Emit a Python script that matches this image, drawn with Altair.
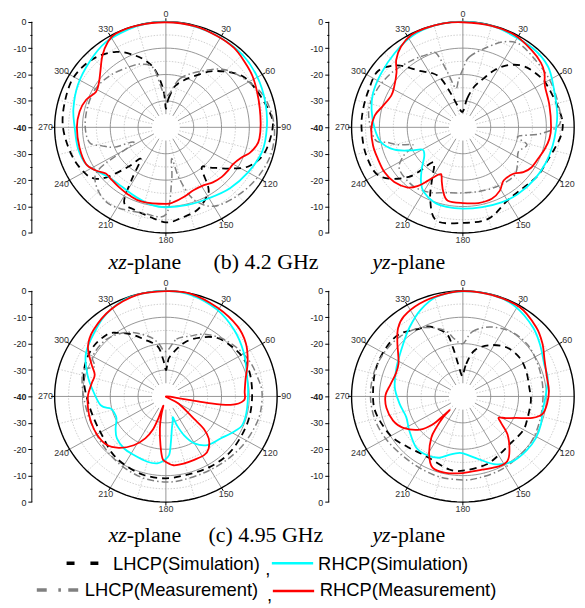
import altair as alt
import pandas as pd

# ---------------- data: angle (deg, clockwise from top) and level (dB) ----------------
# Panel 1: xz-plane, 4.2 GHz
P1_LS_ANG = [0, 5, 12, 20, 27, 37, 46, 55, 66, 81, 90, 105, 116, 124, 134, 140, 146, 150, 160, 171, 180, 192, 200, 208, 212, 217, 222, 228, 233, 240, 253, 270, 285, 300, 315, 328, 338, 345, 350, 355, 358]
P1_LS_DB = [-33, -29, -24, -21, -18.4, -13.5, -9.7, -6.3, -4.6, -2.3, -1.6, -3.2, -6.6, -12.1, -18.1, -20, -12.8, -10.2, -6.8, -5.2, -4, -6, -6.8, -8, -17, -25, -20, -12, -7.8, -6, -4.5, -3, -2.4, -1.8, -3.2, -6.3, -10.7, -14.4, -18, -24, -29]
P1_RS_ANG = [0, 15, 30, 45, 60, 75, 90, 105, 120, 135, 150, 165, 180, 190, 202, 215, 227, 235, 244, 256, 270, 282, 297, 312, 326, 340, 350]
P1_RS_DB = [0, -0.4, -0.8, -1.1, -2.0, -3.0, -3.7, -4.2, -5.9, -7.4, -9.0, -9.6, -9.7, -10.2, -11.5, -12.5, -12.2, -10.5, -8.1, -7.4, -7.2, -6.0, -4.5, -3.0, -1.2, -0.5, -0.1]
P1_LM_ANG = [0, 15, 30, 45, 63, 75, 90, 105, 120, 135, 150, 160, 166, 170, 174, 180, 194, 215, 230, 237, 243, 248, 253, 258, 270, 285, 300, 315, 330, 340, 349]
P1_LM_DB = [-28, -21, -15.6, -9.3, -4.8, -2.4, -1.0, -0.9, -2.0, -3.5, -5.5, -11, -20, -28, -20, -7, -6.5, -4.5, -7, -12, -27, -20, -16, -12, -11, -10.8, -10.8, -12, -13.6, -14.5, -17.4]
P1_RM_ANG = [0, 15, 28, 39, 49, 58, 68, 78, 88, 97, 102, 108, 113, 120, 126, 133, 141, 148, 157, 166, 174, 180, 197, 207, 217, 226, 231, 237, 244, 256, 270, 281, 290, 298, 305, 312, 320, 327, 333, 345]
P1_RM_DB = [-0.2, -0.3, -0.8, -1.2, -2.4, -3.3, -4.6, -5.5, -5.9, -6.1, -6.7, -8.4, -10.6, -12.1, -12.3, -12.5, -13.2, -14.2, -14.2, -12.9, -11.6, -11.0, -10.6, -11.1, -11.8, -12.2, -12.2, -10.0, -8.1, -8.0, -8.0, -8.4, -9.5, -11.5, -10.6, -8.3, -4.5, -1.6, -0.2, -0.1]

# Panel 2: yz-plane, 4.2 GHz
P2_LS_ANG = [0, 8, 15, 22, 28, 35, 44, 56, 63, 77, 87, 95, 104, 114, 124, 135, 150, 165, 180, 195, 203, 210, 215, 220, 226, 238, 253, 269, 281, 293, 305, 315, 324, 332, 337, 341, 348]
P2_LS_DB = [-34, -29, -24, -20, -15.3, -11.2, -8, -6.2, -5.8, -5, -4.1, -4.6, -6.1, -7.2, -7.4, -8.4, -8, -4.2, -3.8, -3.4, -10, -18, -22, -22.5, -13, -4.9, -3.7, -3.6, -3.5, -3.3, -2.8, -6.8, -13.6, -16.8, -20, -26, -32]
P2_RS_ANG = [0, 15, 24, 40, 53, 66, 81, 91, 102, 114, 127, 142, 154, 167, 180, 191, 200, 210, 216, 223, 232, 240, 245, 251, 259, 269, 281, 292, 305, 319, 332, 345]
P2_RS_DB = [0, -0.2, -0.7, -0.9, -1.7, -4.2, -5.7, -6.5, -7.0, -7.3, -7.6, -7.9, -8.4, -9.0, -9.2, -9.3, -9.8, -11.8, -14.4, -18.3, -22.4, -23.2, -19.3, -14.0, -10.1, -8.3, -6.6, -5.2, -4.2, -2.7, -0.9, -0.1]
P2_LM_ANG = [0, 5, 17, 25, 33, 45, 60, 75, 88, 95, 100, 106, 115, 125, 135, 150, 165, 180, 195, 206, 219, 235, 243, 249, 254, 258, 262, 280, 295, 310, 325, 335, 341, 345, 350, 355]
P2_LM_DB = [-18, -13.2, -8, -4.2, -2.5, -3.5, -4.0, -4.6, -5.2, -12, -20, -16, -18, -16, -14, -14.4, -15, -15.2, -14.4, -12.6, -11.5, -12.2, -16, -21, -16, -12.4, -8, -5.6, -6, -7.2, -8.8, -9.6, -10.2, -18, -25, -22]
P2_RM_ANG = [0, 15, 28, 40, 49, 55, 62, 75, 90, 98, 106, 114, 122, 128, 134, 144, 151, 159, 169, 180, 191, 196, 200, 204, 209, 212, 216, 221, 230, 239, 249, 258, 269, 278, 286, 295, 302, 311, 317, 324, 332, 340, 350]
P2_RM_DB = [-0.2, -0.2, -0.4, -1.7, -2.8, -4.2, -6.6, -7.8, -8.3, -8.6, -9.5, -10.5, -11.1, -12.4, -14.7, -15.1, -12.6, -11.0, -10.8, -11.3, -11.7, -14.5, -17.9, -20.6, -18.4, -16.1, -12.6, -9.8, -7.8, -7.1, -7.2, -7.0, -7.1, -8.0, -10.2, -11.6, -10.9, -8.4, -4.9, -2.2, -0.4, -0.1, 0]

# Panel 3: xz-plane, 4.95 GHz
P3_LS_ANG = [0, 3, 6, 18, 29, 40, 52, 63, 75, 90, 105, 120, 135, 150, 165, 180, 195, 210, 222, 235, 252, 268, 282, 294, 306, 318, 324, 332, 340, 351, 356]
P3_LS_DB = [-30, -27, -24.6, -18.6, -14.5, -11.1, -9.6, -8.6, -8.6, -9, -9, -9, -8.7, -9, -9.4, -9, -9.2, -10.2, -11.1, -12.6, -12.8, -11.7, -9.8, -8.4, -7.8, -8.4, -10.2, -13.3, -17, -20.7, -26]
P3_RS_ANG = [0, 13, 29, 44, 59, 75, 87, 102, 112, 118, 129, 141, 150, 156, 160, 162, 165, 170, 174, 177, 182, 187, 195, 207, 217, 228, 236, 245, 252, 257, 262, 276, 286, 298, 309, 324, 338, 349]
P3_RS_DB = [0, -0.5, -2.3, -4.8, -7.4, -9.8, -10.4, -10.4, -10.5, -12, -14.7, -16.3, -19.5, -23.9, -28.3, -31.7, -30.5, -27.6, -22.7, -17.8, -15.6, -14.5, -14.4, -15, -15.2, -16.3, -18.2, -20.4, -20.4, -19.6, -16.3, -13.4, -10.7, -7.3, -5.4, -2.4, -0.4, -0.1]
P3_LM_ANG = [0, 10, 21, 30, 42, 55, 67, 77, 87, 100, 111, 125, 140, 155, 170, 180, 194, 210, 225, 240, 255, 270, 282, 289, 294, 300, 315, 330, 344, 352]
P3_LM_DB = [-23, -18, -15.5, -12.8, -10.3, -8.4, -7, -6.3, -5.4, -5.5, -6.1, -6.8, -7.6, -8, -7.8, -7.6, -8, -9.2, -10.4, -11.2, -11.2, -10.4, -9.2, -8.8, -12, -9.6, -9.6, -12, -16.2, -19.4]
P3_RM_ANG = [0, 13, 29, 44, 55, 66, 77, 86, 93, 97.8, 99.3, 99, 100, 121, 130, 132, 136, 142, 148, 157, 166, 174, 180, 183, 186, 190, 193, 195, 198, 200.5, 205, 212, 221, 230, 240, 250, 260, 271, 281, 288, 295, 304, 314, 329, 345]
P3_RM_DB = [-0.1, -0.1, -1.6, -3.0, -4.9, -7.8, -10.6, -11.6, -11.9, -16.5, -25, -33.4, -40, -34.6, -26.9, -21.7, -17.8, -15, -13.9, -13.9, -13.8, -13.8, -15.2, -16.5, -21.4, -27.6, -32.6, -36.4, -31.5, -26.5, -22.5, -18.2, -14.2, -11.8, -11.3, -11.4, -11.6, -12, -12.9, -13.1, -10.4, -6.2, -3.8, -1.6, -0.2]

# Panel 4: yz-plane, 4.95 GHz
P4_LS_ANG = [0, 5.6, 13.5, 26, 40, 54, 67, 82, 94, 109, 121, 137, 149, 162, 178, 190, 210, 227, 241, 260, 276, 290, 304, 316, 329, 336, 346, 349, 352, 356]
P4_LS_DB = [-32, -27.6, -22.1, -18.4, -15.7, -14.9, -15.3, -15.9, -15.5, -15.4, -14.8, -15.3, -14.4, -12.9, -12, -11.9, -13.8, -12.3, -10, -8, -7.6, -7, -6.8, -7.2, -10, -11.1, -15.5, -21, -27.5, -31.5]
P4_RS_ANG = [0, 16, 29, 44, 56, 67, 77, 88, 101, 111, 121, 132, 144, 155, 166, 177, 183, 192, 200, 210, 221, 236, 249, 263, 278, 295, 313, 324, 335, 346]
P4_RS_DB = [-0.2, -0.2, -1.1, -3.7, -6.3, -8.3, -8.7, -10.1, -10.8, -10, -9.4, -9.3, -9.6, -11.6, -15.4, -18, -18.6, -17.5, -15.3, -14.3, -14.4, -16.8, -18.2, -17.1, -15.3, -13.7, -10.7, -7.5, -3.9, -1.1]
P4_LM_ANG = [0, 8, 20, 35, 50, 65, 80, 95, 110, 125, 140, 155, 170, 180, 195, 210, 225, 240, 255, 270, 285, 300, 315, 330, 345, 352]
P4_LM_DB = [-20, -15.2, -12, -10, -9.6, -10.4, -11, -11.2, -10.8, -10, -9.6, -9, -8.6, -8.4, -8.4, -8.8, -8.8, -8, -7.2, -6.8, -6.8, -7.2, -8, -10, -14, -18]
P4_RM_ANG = [0, 15, 31, 45, 55, 65, 76, 86, 95, 103, 108, 113, 118, 122, 126, 132, 141, 147, 154, 166, 180, 192, 202, 209, 216, 219, 221.8, 222.5, 224, 225.6, 231, 241, 250, 261, 271, 280, 290, 298, 305, 311, 318, 325, 336, 348]
P4_RM_DB = [-0.1, -0.2, -0.5, -2.8, -5.1, -7.6, -8.9, -9.0, -9.6, -10.6, -13.7, -19.2, -22.5, -24.8, -23.1, -18.4, -13.4, -10.7, -10.5, -11.4, -11, -10.4, -10.9, -15, -20.7, -24.8, -29.3, -33, -29.7, -25, -20.1, -15.5, -13.3, -12.2, -12.2, -13.6, -14.4, -13.8, -11.6, -8.8, -5.2, -3, -1.6, -0.8]

# grid / labels
RINGS_SOLID = [-30, -20, -10]
RINGS_DOTTED = [-25, -15, -5]
SPOKES_SOLID = list(range(0, 360, 30))
SPOKES_DOTTED = list(range(15, 360, 30))
ANGLE_LABELS = list(range(0, 360, 30))
AXIS_VALUES = list(range(-40, 41, 5))

SERIES = ["LHCP(Simulation)", "RHCP(Simulation)", "LHCP(Measurement)", "RHCP(Measurement)"]
COLORS = ["#000000", "#00ffff", "#808080", "#ff0000"]

RAD = "PI / 180"
YS = alt.Scale(domain=[-45.1, 44.4], nice=False, zero=False)
YAXIS = alt.Axis(
    values=AXIS_VALUES,
    labelExpr="datum.value % 10 != 0 ? '' : (abs(datum.value) == 40 ? '0' : '-' + (40 - abs(datum.value)))",
    labelFontWeight={"condition": {"test": "datum.value == 0", "value": "bold"}, "value": "normal"},
    tickSize={"condition": {"test": "datum.value % 10 == 0", "value": 4}, "value": 2},
    domain=False, grid=False, ticks=True, tickColor="#000000", tickWidth=1,
    labelFont="Liberation Sans", labelFontSize=9, labelColor="#222222",
    labelPadding=2, labelOverlap=False, title=None,
)


def ring_frame(levels):
    return pd.DataFrame([{"lvl": v, "t": t} for v in levels for t in range(0, 361, 3)])


def panel(curves, right_col):
    xdom = [-48.2, 40.3] if right_col else [-48.2, 48.2]
    width = round((xdom[1] - xdom[0]) * 2.8)
    XS = alt.Scale(domain=xdom, nice=False, zero=False)
    label_limit = 39 if right_col else 46

    def X(f):
        return alt.X(f, type="quantitative", scale=XS, axis=None)

    def Y(f):
        return alt.Y(f, type="quantitative", scale=YS, axis=YAXIS)

    def rings(levels, **mk):
        return alt.Chart(ring_frame(levels)).transform_calculate(
            r="datum.lvl + 40",
            px=f"datum.r * sin(datum.t * {RAD})",
            py=f"datum.r * cos(datum.t * {RAD})",
        ).mark_line(**mk).encode(x=X("px"), y=Y("py"), detail="lvl:N", order="t:Q")

    def spokes(angles, r1, r2, **mk):
        return alt.Chart(pd.DataFrame({"a": angles})).transform_calculate(
            x1=f"{r1} * sin(datum.a * {RAD})", y1=f"{r1} * cos(datum.a * {RAD})",
            x2=f"{r2} * sin(datum.a * {RAD})", y2=f"{r2} * cos(datum.a * {RAD})",
        ).transform_filter(f"datum.x2 < {xdom[1] - 0.1}").mark_rule(**mk).encode(
            x=X("x1"), y=Y("y1"), x2="x2:Q", y2="y2:Q")

    layers = [
        rings(RINGS_DOTTED, color="#c4c4c4", strokeWidth=0.8, strokeDash=[1.5, 1.5]),
        spokes(SPOKES_DOTTED, 5, 40, color="#c4c4c4", strokeWidth=0.8, strokeDash=[1.5, 1.5]),
        rings(RINGS_SOLID, color="#8a8a8a", strokeWidth=0.9),
        spokes(SPOKES_SOLID, 5, 40, color="#8a8a8a", strokeWidth=0.9),
        rings([0], color="#000000", strokeWidth=1.4),
        spokes(ANGLE_LABELS, 40, 41.3, color="#000000", strokeWidth=1),
        alt.Chart(pd.DataFrame({"k": [0]})).mark_rule(color="#000000", strokeWidth=1).encode(
            x=alt.value(0), y=alt.Y(datum=-40, type="quantitative", scale=YS, axis=YAXIS), y2=alt.datum(40)),
        alt.Chart(pd.DataFrame({"a": ANGLE_LABELS})).transform_calculate(
            px=f"43.3 * sin(datum.a * {RAD})", py=f"42.8 * cos(datum.a * {RAD})",
            lab="'' + datum.a",
        ).transform_filter(f"datum.px < {label_limit}").mark_text(
            font="Liberation Sans", fontSize=9, color="#333333", align="center", baseline="middle"
        ).encode(x=X("px"), y=Y("py"), text="lab:N"),
    ]
    styles = [
        dict(color=COLORS[0], strokeWidth=1.8, strokeDash=[7, 5]),
        dict(color=COLORS[2], strokeWidth=1.5, strokeDash=[7, 3, 1.5, 3]),
        dict(color=COLORS[1], strokeWidth=1.8),
        dict(color=COLORS[3], strokeWidth=1.8),
    ]
    for (ang, db), st in zip(curves, styles):
        df = pd.DataFrame({"ang": ang, "db": db, "ord": list(range(len(ang)))})
        layers.append(
            alt.Chart(df).transform_calculate(
                r="max(datum.db + 40, 0)",
                px=f"datum.r * sin(datum.ang * {RAD})",
                py=f"datum.r * cos(datum.ang * {RAD})",
            ).mark_line(interpolate="cardinal-closed", **st).encode(
                x=X("px"), y=Y("py"), order="ord:Q")
        )
    return alt.layer(*layers).properties(width=width, height=238)


p1 = panel([(P1_LS_ANG, P1_LS_DB), (P1_LM_ANG, P1_LM_DB), (P1_RS_ANG, P1_RS_DB), (P1_RM_ANG, P1_RM_DB)], False)
p2 = panel([(P2_LS_ANG, P2_LS_DB), (P2_LM_ANG, P2_LM_DB), (P2_RS_ANG, P2_RS_DB), (P2_RM_ANG, P2_RM_DB)], True)
p3 = panel([(P3_LS_ANG, P3_LS_DB), (P3_LM_ANG, P3_LM_DB), (P3_RS_ANG, P3_RS_DB), (P3_RM_ANG, P3_RM_DB)], False)
p4 = panel([(P4_LS_ANG, P4_LS_DB), (P4_LM_ANG, P4_LM_DB), (P4_RS_ANG, P4_RS_DB), (P4_RM_ANG, P4_RM_DB)], True)

DUMMY = pd.DataFrame({"k": [0]})


def txt(s, x, y, size=22, font="Liberation Serif", style="normal", align="left"):
    return alt.Chart(DUMMY).mark_text(
        text=s, font=font, fontSize=size, fontStyle=style, align=align, baseline="alphabetic", color="#000000"
    ).encode(x=alt.value(x), y=alt.value(y))


def seg(x1, x2, y, color, width, dash=None):
    kw = dict(color=color, strokeWidth=width)
    if dash:
        kw["strokeDash"] = dash
    return alt.Chart(DUMMY).mark_rule(**kw).encode(x=alt.value(x1), x2=alt.value(x2), y=alt.value(y))


DX = -30  # caption chart origin sits at the panel axis line (x = 30)
cap1 = alt.layer(
    txt("xz", 125.5 + DX, 23, style="italic", align="right"),
    txt("-plane", 125.5 + DX, 23),
    txt("(b) 4.2 GHz", 213 + DX, 23),
    txt("yz", 391.3 + DX, 23, style="italic", align="right"),
    txt("-plane", 391.3 + DX, 23),
).properties(width=535, height=33)

LEG_FONT = "Liberation Sans"
cap2 = alt.layer(
    txt("xz", 125.5 + DX, 26.5, style="italic", align="right"),
    txt("-plane", 125.5 + DX, 26.5),
    txt("(c) 4.95 GHz", 208 + DX, 26.5),
    txt("yz", 391.3 + DX, 26.5, style="italic", align="right"),
    txt("-plane", 391.3 + DX, 26.5),
    seg(65 + DX, 98 + DX, 48, COLORS[0], 3.5, [8, 16]),
    txt(SERIES[0], 111.7 + DX, 54.5, size=18.5, font=LEG_FONT),
    txt(",", 265 + DX, 59.5, size=18.5, font=LEG_FONT),
    seg(271.7 + DX, 313.3 + DX, 48, COLORS[1], 2.5),
    txt(SERIES[1], 318.3 + DX, 54.5, size=18.5, font=LEG_FONT),
    seg(35 + DX, 77.3 + DX, 75, COLORS[2], 3.5, [10, 11.7, 2.6, 7.4]),
    txt(SERIES[2], 83.3 + DX, 81.5, size=18.5, font=LEG_FONT),
    txt(",", 266.7 + DX, 86, size=18.5, font=LEG_FONT),
    seg(272.7 + DX, 314.3 + DX, 76, COLORS[3], 2.5),
    txt(SERIES[3], 320 + DX, 81.5, size=18.5, font=LEG_FONT),
).properties(width=535, height=84)

row1 = alt.hconcat(p1, p2, spacing=9)
row2 = alt.hconcat(p3, p4, spacing=9)

chart = alt.vconcat(row1, cap1, row2, cap2, spacing=0).properties(
    padding={"left": 4, "top": 0, "right": 0, "bottom": 0}, background="white"
).configure_view(stroke=None)

chart.save("out.html", embed_options={"renderer": "svg", "actions": False})
